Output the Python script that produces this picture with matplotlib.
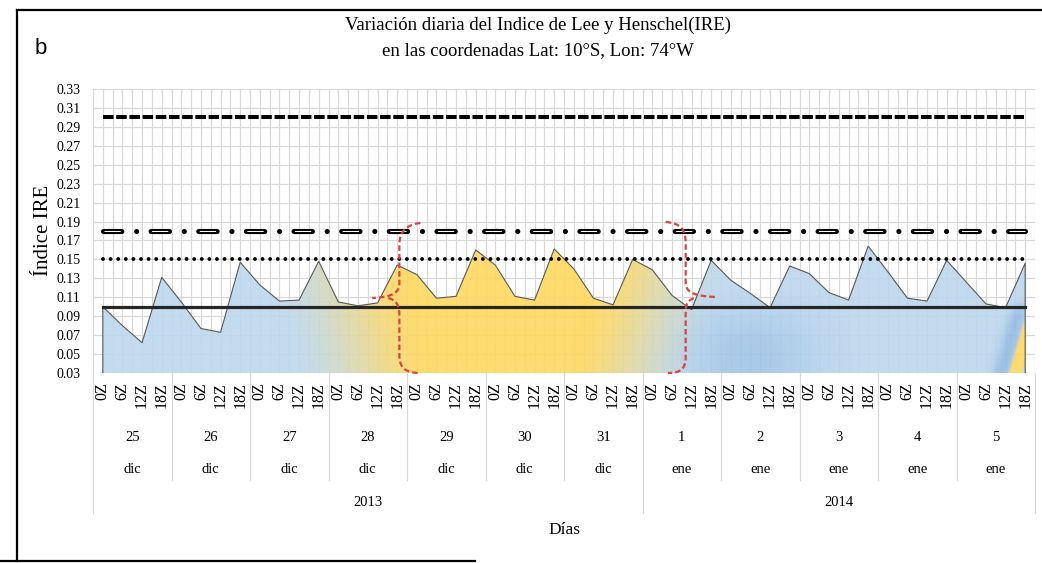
import numpy as np
import matplotlib
matplotlib.use("Agg")
import matplotlib.pyplot as plt
from matplotlib.path import Path
from matplotlib.patches import PathPatch
from matplotlib.lines import Line2D
from matplotlib.transforms import blended_transform_factory

plt.rcParams['font.family'] = ['Liberation Serif', 'DejaVu Serif']
plt.rcParams['lines.scale_dashes'] = False

# ---- data -----------------------------------------------------------------
hours = ['0Z', '6Z', '12Z', '18Z']
days = ['25', '26', '27', '28', '29', '30', '31', '1', '2', '3', '4', '5']
months = ['dic'] * 7 + ['ene'] * 5
years = ['2013', '2014']
days_per_year = [7, 5]

ire = [0.100, 0.080, 0.062, 0.131,
       0.105, 0.077, 0.073, 0.147,
       0.123, 0.106, 0.107, 0.148,
       0.105, 0.101, 0.104, 0.144,
       0.134, 0.109, 0.111, 0.160,
       0.144, 0.111, 0.107, 0.161,
       0.140, 0.109, 0.102, 0.150,
       0.139, 0.112, 0.097, 0.149,
       0.128, 0.114, 0.099, 0.143,
       0.135, 0.115, 0.107, 0.164,
       0.137, 0.109, 0.106, 0.149,
       0.126, 0.103, 0.099, 0.146]

thr_dashed = 0.30
thr_dashdot = 0.18
thr_dotted = 0.15
thr_solid = 0.10

y_min, y_max, y_step = 0.03, 0.33, 0.02

# ---- figure ---------------------------------------------------------------
W, H = 1042, 563
fig = plt.figure(figsize=(W / 100, H / 100), dpi=100)
ax = fig.add_axes([93 / W, 1 - 373 / H, 942 / W, 284 / H])

n = len(ire)
x = np.arange(n)
labels = [hours[i % 4] for i in range(n)]

# gradient-filled area
poly = np.vstack([[0, y_min], np.column_stack([x, ire]), [n - 1, y_min]])
patch = PathPatch(Path(poly), facecolor='none', edgecolor='none')
ax.add_patch(patch)

def smooth(t):
    t = np.clip(t, 0, 1)
    return t * t * (3 - 2 * t)

cx = np.linspace(-0.5, n - 0.5, 1100)
vy = np.linspace(y_min, 0.18, 240)
C, V = np.meshgrid(cx, vy)
blue = np.array([189, 215, 238]) / 255
blue_dark = np.array([150, 190, 228]) / 255
blue_deep = np.array([135, 178, 222]) / 255
yellow = np.array([255, 216, 95]) / 255

wd = 0.75 * np.exp(-((C - 33) / 3.2) ** 2) * smooth((0.13 - V) / 0.08)
col = blue[None, None, :] * (1 - wd[..., None]) + blue_dark[None, None, :] * wd[..., None]
wy = smooth((C - 9.5 + (V - 0.03) * 12) / 7.5) * (1 - smooth((C - 23.5 - (V - 0.03) * 14) / 7.0))
col = col * (1 - wy[..., None]) + yellow[None, None, :] * wy[..., None]

dxp = (C - 46.18) * 19.6
dyp = -(V - 0.03) * 946.7
s = (dxp * 55 + dyp * 16) / 57.3
wb = 0.8 * np.exp(-((s + 7) / 9) ** 2) * smooth((0.115 - V) / 0.03)
col = col * (1 - wb[..., None]) + blue_deep[None, None, :] * wb[..., None]
wc = smooth((s + 2) / 5) * (1 - smooth((s - 11) / 4)) * smooth((0.095 - V) / 0.02)
col = col * (1 - wc[..., None]) + yellow[None, None, :] * wc[..., None]

im = ax.imshow(col, extent=(-0.5, n - 0.5, y_min, 0.18), origin='lower',
               aspect='auto', interpolation='bilinear', zorder=2, alpha=0.9)
im.set_clip_path(patch)

ax.plot(poly[:, 0], poly[:, 1], color='#595959', lw=0.8, zorder=3)

# threshold lines
ax.plot([0, n - 1], [thr_dashed] * 2, color='black', lw=2.9,
        linestyle=(0, (7.6, 1.9)), solid_capstyle='projecting', dash_capstyle='butt', zorder=4)
ax.plot([0, n - 1], [thr_dashdot] * 2, color='black', lw=3.7,
        linestyle=(0, (13.2, 10.65, 0.05, 10.4)), dash_capstyle='round', zorder=4)
ax.plot([0, n - 1], [thr_dashdot] * 2, color='white', lw=0.75,
        linestyle=(33.6, (11.7, 22.6)), dash_capstyle='butt', zorder=5)
ax.plot([0, n - 1], [thr_dotted] * 2, color='black', lw=2.8,
        linestyle=(0, (0.01, 5.46)), dash_capstyle='round', zorder=4)
ax.plot([0, n - 1], [thr_solid] * 2, color='#262626', lw=2.3,
        solid_capstyle='projecting', zorder=4)

# red dashed braces
def brace(ax, upper, lower):
    codes = [Path.MOVETO, Path.CURVE4, Path.CURVE4, Path.CURVE4,
             Path.LINETO, Path.CURVE4, Path.CURVE4, Path.CURVE4]
    for pts in (upper, lower):
        ax.add_patch(PathPatch(Path(pts, codes), fill=False, edgecolor='#d9443f',
                               lw=1.6, linestyle=(0, (4.0, 2.2)), clip_on=False, zorder=6))

brace(ax,
      [(16.18, 0.1885), (15.42, 0.1863), (15.11, 0.1789), (15.11, 0.1652),
       (15.11, 0.1251), (15.11, 0.1156), (14.86, 0.1103), (13.73, 0.1092)],
      [(14.55, 0.1092), (14.96, 0.1071), (15.11, 0.1008), (15.11, 0.0913),
       (15.11, 0.0490), (15.11, 0.0353), (15.42, 0.0300), (16.18, 0.0300)])
brace(ax,
      [(28.68, 0.1895), (29.45, 0.1885), (29.70, 0.1811), (29.70, 0.1673),
       (29.70, 0.1261), (29.70, 0.1166), (29.96, 0.1113), (31.24, 0.1103)],
      [(30.11, 0.1092), (29.65, 0.1050), (29.70, 0.0987), (29.70, 0.0881),
       (29.70, 0.0469), (29.70, 0.0343), (29.45, 0.0300), (28.79, 0.0300)])

# axes, ticks and grid
ax.set_xlim(-0.5, n - 0.5)
ax.set_ylim(y_min, y_max)
ax.set_xticks(x)
ax.set_xticklabels(labels, rotation=90, fontsize=11.5)
ax.set_xticks(np.arange(-0.5, n, 1), minor=True)
yt = np.round(np.arange(y_min, y_max + 1e-9, y_step), 2)
ax.set_yticks(yt)
ax.set_yticklabels([f'{v:.2f}' for v in yt], fontsize=10)
ax.tick_params(axis='both', which='both', length=0)
ax.tick_params(axis='x', pad=7)
ax.tick_params(axis='y', pad=9)
ax.grid(True, which='both', axis='x', color='#d9d9d9', lw=0.9)
ax.grid(True, which='major', axis='y', color='#d9d9d9', lw=0.9)
ax.set_axisbelow(True)
for sp in ax.spines.values():
    sp.set_visible(False)

# multi-level category labels
trans = blended_transform_factory(ax.transData, ax.transAxes)
for i, (d, m) in enumerate(zip(days, months)):
    ax.text(4 * i + 1.5, -0.2254, d, transform=trans, ha='center', va='center', fontsize=10.5)
    ax.text(4 * i + 1.5, -0.3415, m, transform=trans, ha='center', va='center', fontsize=10.5)
start = 0
bounds = [-0.5]
for yr, nd in zip(years, days_per_year):
    ax.text(start * 4 + nd * 2 - 0.5, -0.4577, yr, transform=trans,
            ha='center', va='center', fontsize=10.5)
    start += nd
    bounds.append(start * 4 - 0.5)
for i in range(1, len(days)):
    b = 4 * i - 0.5
    if b not in bounds:
        ax.add_line(Line2D([b, b], [0, -0.377], transform=trans, color='#d9d9d9',
                           lw=0.9, clip_on=False))
for b in bounds:
    ax.add_line(Line2D([b, b], [0, -0.493], transform=trans, color='#d9d9d9',
                       lw=0.9, clip_on=False))

ax.text(0.5, -0.5528, 'Días', transform=ax.transAxes, ha='center', va='center', fontsize=12.5)
fig.text(43 / W, 1 - 230 / H, 'Índice IRE', rotation=90, ha='center', va='center', fontsize=15)

fig.text(538 / W, 1 - 30 / H, 'Variación diaria del Indice de Lee y Henschel(IRE)',
         ha='center', va='baseline', fontsize=13.5)
fig.text(538 / W, 1 - 55 / H, 'en las coordenadas Lat: 10°S, Lon: 74°W',
         ha='center', va='baseline', fontsize=13.5)
fig.text(35 / W, 1 - 54 / H, 'b', family=['Liberation Sans', 'DejaVu Sans'],
         ha='left', va='baseline', fontsize=16)

# outer frame
fig.add_artist(Line2D([17 / W, 17 / W], [1 - 10 / H, 1 - 561 / H], transform=fig.transFigure,
                      color='black', lw=1.6))
fig.add_artist(Line2D([17 / W, 1.0], [1 - 10 / H, 1 - 10 / H], transform=fig.transFigure,
                      color='black', lw=1.6))
fig.add_artist(Line2D([0, 475 / W], [1 - 561 / H, 1 - 561 / H], transform=fig.transFigure,
                      color='black', lw=1.6))

fig.savefig('out.png', dpi=100)
